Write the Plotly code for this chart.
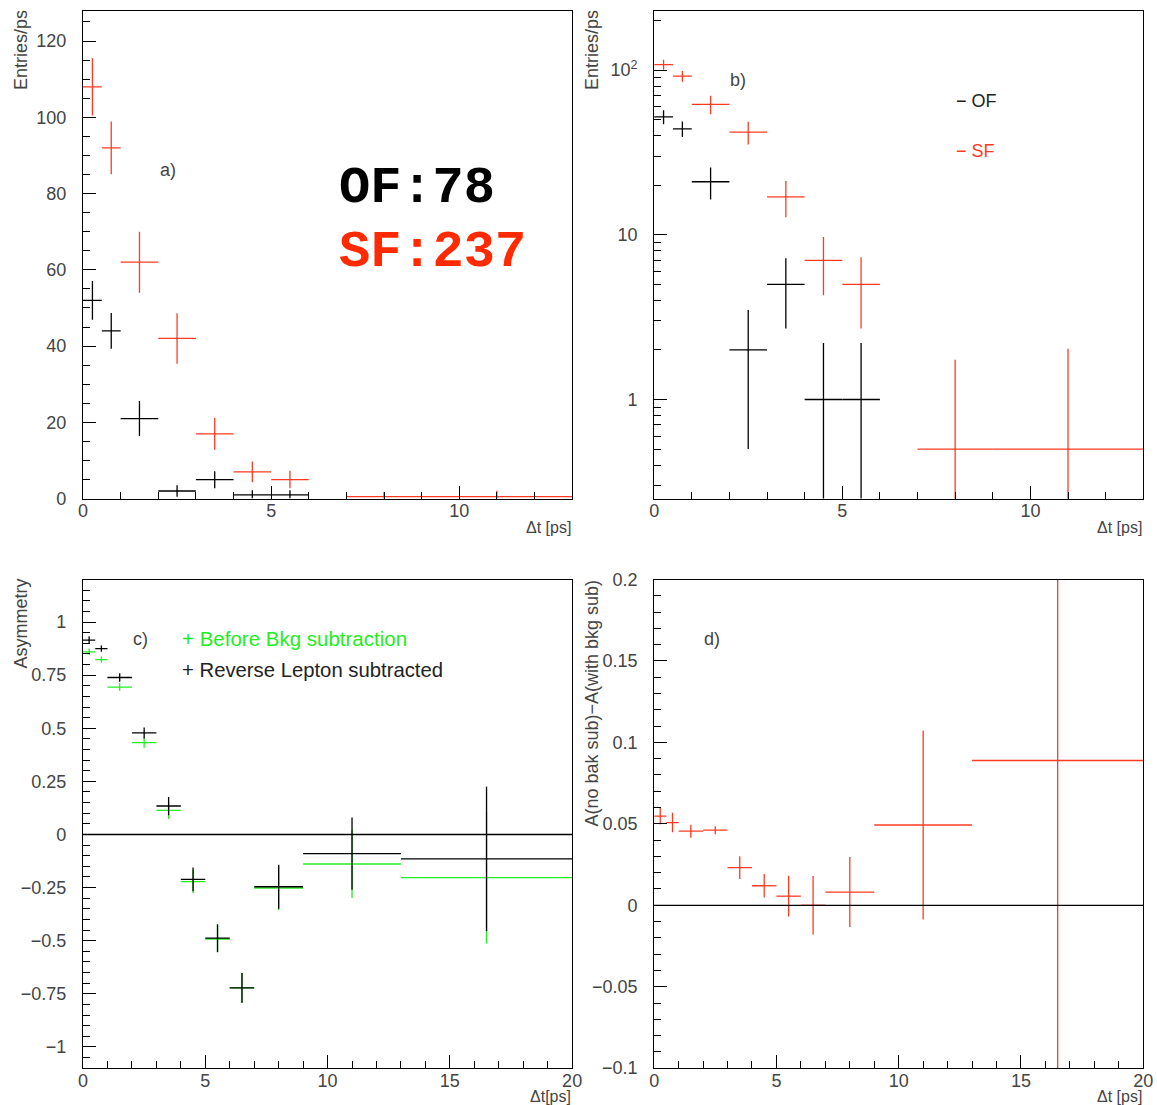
import plotly.graph_objects as go

# ---------------- data ----------------
# Panels a/b: OF and SF counts per ps
of_x = [0.25, 0.75, 1.5, 2.5, 3.5, 4.5, 5.5]
of_hw = [0.25, 0.25, 0.5, 0.5, 0.5, 0.5, 0.5]
of_y = [52, 44, 21, 2, 5, 1, 1]
of_eup = [5.1, 4.7, 4.6, 1.5, 2.2, 1.2, 1.2]
of_edn = [5.1, 4.7, 4.6, 1.5, 2.3, 0.99, 0.99]

sf_x = [0.25, 0.75, 1.5, 2.5, 3.5, 4.5, 5.5, 8, 11]
sf_hw = [0.25, 0.25, 0.5, 0.5, 0.5, 0.5, 0.5, 1, 2]
sf_y = [108, 92, 62, 42, 17, 7, 5, 0.5, 0.5]
sf_eup = [7.5, 6.9, 8.0, 6.6, 4.2, 2.7, 2.3, 1.24, 1.53]
sf_edn = [7.5, 6.9, 8.0, 6.6, 4.2, 2.7, 2.3, 0.49, 0.49]

# Panels c/d: asymmetry bins
asy_x = [0.25, 0.75, 1.5, 2.5, 3.5, 4.5, 5.5, 6.5, 8, 11, 16.5]
asy_hw = [0.25, 0.25, 0.5, 0.5, 0.5, 0.5, 0.5, 0.5, 1, 2, 3.5]
rev_y = [0.915, 0.875, 0.739, 0.478, 0.134, -0.211, -0.488, -0.722, -0.246, -0.090, -0.115]
rev_e = [0.018, 0.015, 0.02, 0.026, 0.043, 0.056, 0.065, 0.07, 0.104, 0.17, 0.34]
bef_y = [0.860, 0.823, 0.694, 0.432, 0.113, -0.222, -0.492, -0.722, -0.252, -0.139, -0.203]
bef_e = [0.015, 0.015, 0.018, 0.024, 0.04, 0.055, 0.063, 0.07, 0.104, 0.16, 0.31]
diff_y = [0.0547, 0.0508, 0.0455, 0.0461, 0.0231, 0.012, 0.0056, 0.0, 0.0081, 0.0493, 0.0889]
diff_e = [0.005, 0.006, 0.004, 0.0025, 0.007, 0.0072, 0.0125, 0.018, 0.0215, 0.058, 0.22]

RED = "#ff3a22"
GREEN = "#22ee22"
BLACK = "#000000"
TXT = "#444444"
FONT = "Liberation Sans"

# layout positions are given in target-picture pixels and converted through
# the page's observed offset/scale
SX, OX = 0.987, 6.0
SY, OY = 0.983, 8.0
W, H = 1175, 1125


def fx(p):
    return (p - OX) / SX


def fy(p):
    return (p - OY) / SY


def clamp(v):
    return max(0.0, min(0.9995, v))


def px_x(p):
    return fx(p) / W


def px_y(p):
    return 1 - fy(p) / H


fig = go.Figure()


def errtrace(x, hw, y, eup, edn, color, xa, ya):
    return go.Scatter(
        x=x, y=y, mode="markers",
        marker=dict(size=1, color=color),
        error_x=dict(type="data", array=hw, symmetric=True, color=color,
                     thickness=1.3, width=0),
        error_y=dict(type="data", array=eup, arrayminus=edn, symmetric=False,
                     color=color, thickness=1.3, width=0),
        xaxis=xa, yaxis=ya, showlegend=False, hoverinfo="skip",
    )


# panel a
fig.add_trace(errtrace(of_x, of_hw, of_y, of_eup, of_edn, BLACK, "x", "y"))
fig.add_trace(errtrace(sf_x, sf_hw, sf_y, sf_eup, sf_edn, RED, "x", "y"))
# panel b
fig.add_trace(errtrace(of_x, of_hw, of_y, of_eup, of_edn, BLACK, "x2", "y2"))
fig.add_trace(errtrace(sf_x, sf_hw, sf_y, sf_eup, sf_edn, RED, "x2", "y2"))
# panel c
fig.add_trace(errtrace(asy_x, asy_hw, bef_y, bef_e, bef_e, GREEN, "x3", "y3"))
fig.add_trace(errtrace(asy_x, asy_hw, rev_y, rev_e, rev_e, BLACK, "x3", "y3"))
# panel d
fig.add_trace(errtrace(asy_x, asy_hw, diff_y, diff_e, diff_e, RED, "x4", "y4"))

top = [clamp(px_y(497)), clamp(px_y(8))]
bot = [clamp(px_y(1067)), clamp(px_y(578))]
left = [clamp(px_x(84)), clamp(px_x(573))]
right = [clamp(px_x(655)), clamp(px_x(1144))]

axis_common = dict(
    showline=True, linecolor="black", linewidth=1.2, mirror=True,
    ticks="inside", tickcolor="black", tickwidth=1.2, ticklen=13,
    showgrid=False, zeroline=False,
    tickfont=dict(family=FONT, size=18, color=TXT),
)


def xax(domain, anchor, rng):
    d = dict(axis_common)
    d.update(domain=domain, anchor=anchor, range=rng, dtick=5, tick0=0,
             ticklabelstandoff=-4,
             minor=dict(dtick=1, ticks="inside", ticklen=7, tickcolor="black",
                        tickwidth=1.2, showgrid=False))
    return d


def yax(domain, anchor, rng, dtick, mdtick):
    d = dict(axis_common)
    d.update(domain=domain, anchor=anchor, range=rng, dtick=dtick, tick0=0,
             ticklabelstandoff=12,
             minor=dict(dtick=mdtick, ticks="inside", ticklen=7, tickcolor="black",
                        tickwidth=1.2, showgrid=False))
    return d


log_minor = [0.3, 0.4, 0.5, 0.6, 0.7, 0.8, 0.9, 2, 3, 4, 5, 6, 7, 8, 9,
             20, 30, 40, 50, 60, 70, 80, 90, 200]
yb = dict(axis_common)
yb.update(domain=top, anchor="x2", type="log", range=[-0.602, 2.362],
          tickmode="array", tickvals=[1, 10, 100], ticktext=["1", "10", "10<sup>2</sup>"],
          ticklabelstandoff=12,
          minor=dict(tickmode="array", tickvals=log_minor, ticks="inside", ticklen=7,
                     tickcolor="black", tickwidth=1.2, showgrid=False))

fig.update_layout(
    width=W, height=H, margin=dict(l=0, r=0, t=0, b=0),
    paper_bgcolor="white", plot_bgcolor="white",
    xaxis=xax(left, "y", [0, 13]),
    yaxis=yax(top, "x", [0, 128], 20, 5),
    xaxis2=xax(right, "y2", [0, 13]),
    yaxis2=yb,
    xaxis3=xax(left, "y3", [0, 20]),
    yaxis3=yax(bot, "x3", [-1.1, 1.2], 0.25, 0.05),
    xaxis4=xax(right, "y4", [0, 20]),
    yaxis4=yax(bot, "x4", [-0.1, 0.2], 0.05, 0.01),
)
fig.update_layout(yaxis3=dict(tickformat="~g"), yaxis4=dict(tickformat="~g"))

# zero lines
for xa, ya in [("x3", "y3"), ("x4", "y4")]:
    fig.add_shape(type="line", xref=xa + " domain", yref=ya, x0=0, x1=1, y0=0, y1=0,
                  line=dict(color="black", width=1.3))


def ann(text, x, y, size=18, color=TXT, xanchor="left", yanchor="middle",
        angle=0, family=FONT, bold=False):
    fig.add_annotation(
        text=f"<b>{text}</b>" if bold else text,
        x=px_x(x), y=px_y(y), xref="paper", yref="paper",
        xanchor=xanchor, yanchor=yanchor, textangle=angle, showarrow=False,
        font=dict(family=family, size=size, color=color),
    )


# axis titles
ann("Δt [ps]", 574, 526, size=16, xanchor="right")
ann("Δt [ps]", 1145, 526, size=16, xanchor="right")
ann("Δt[ps]", 574, 1095, size=16, xanchor="right")
ann("Δt [ps]", 1145, 1095, size=16, xanchor="right")
ann("Entries/ps", 22, 48, size=18, xanchor="center", angle=-90)
ann("Entries/ps", 593, 48, size=18, xanchor="center", angle=-90)
ann("Asymmetry", 22, 622, size=18, xanchor="center", angle=-90)
ann("A(no bak sub)−A(with bkg sub)", 593, 702, size=18, xanchor="center", angle=-90)

# panel labels
ann("a)", 159, 168)
ann("b)", 729, 78)
ann("c)", 132, 637)
ann("d)", 703, 637)

# big counts
ann("OF:78", 338, 187, size=52, color="#000000",
    family="Courier New, Liberation Mono", bold=True)
ann("SF:237", 338, 251, size=52, color="#ff2a00",
    family="Courier New, Liberation Mono", bold=True)

# legend b
ann("− OF", 955, 99, size=18, color="#222222")
ann("− SF", 955, 149, size=18, color=RED)

# legend c
ann("+ Before Bkg subtraction", 181, 637, size=20.5, color=GREEN)
ann("+ Reverse Lepton subtracted", 181, 669, size=20.3, color="#222222")

fig.write_html("out.html")
